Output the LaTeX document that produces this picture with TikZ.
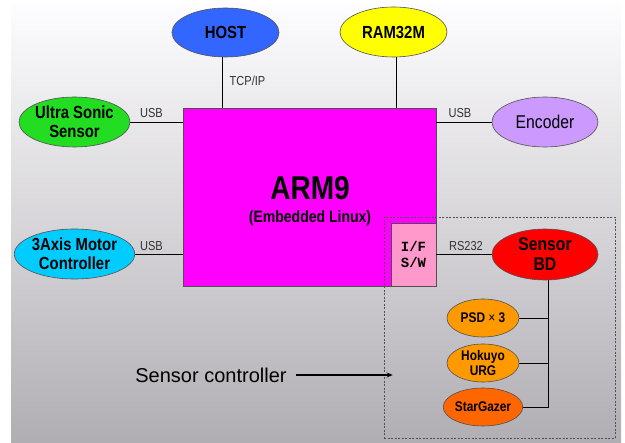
\documentclass[tikz,border=0pt]{standalone}
\usepackage{fontspec}
\setmainfont{Liberation Sans}
\newfontfamily\labf[FakeStretch=0.85]{Liberation Sans}
\newfontfamily\monof{Liberation Mono}
\usetikzlibrary{shapes.geometric,arrows.meta}
\definecolor{bgtop}{RGB}{253,252,254}
\definecolor{bgbot}{RGB}{176,174,179}
\definecolor{edgegray}{RGB}{80,80,80}
\definecolor{labgray}{RGB}{50,50,50}
\definecolor{hostblue}{RGB}{51,102,255}
\definecolor{ramyellow}{RGB}{255,255,0}
\definecolor{usgreen}{RGB}{34,221,34}
\definecolor{enclav}{RGB}{204,153,255}
\definecolor{axcyan}{RGB}{0,204,255}
\definecolor{sbdred}{RGB}{255,0,0}
\definecolor{psdorange}{RGB}{255,153,0}
\definecolor{stardark}{RGB}{255,102,0}
\definecolor{armmag}{RGB}{255,0,255}
\definecolor{ifpink}{RGB}{255,153,204}
\begin{document}
\begin{tikzpicture}[x=1pt,y=-1pt,
  ell/.style={ellipse,draw=edgegray,line width=0.6pt,inner sep=0pt,align=center,text=black},
  bigf/.style={font=\labf\bfseries\fontsize{17.5}{19}\selectfont},
  smallf/.style={font=\labf\bfseries\fontsize{14}{15.5}\selectfont},
  elab/.style={font=\labf\fontsize{13}{13}\selectfont,text=labgray,inner sep=0pt},
  conn/.style={draw=black,line width=0.9pt}]
\useasboundingbox (0,0) rectangle (625,443);
\shade[top color=bgtop,bottom color=bgbot] (11,5) rectangle (621,443);

% main box
\node[draw=edgegray,line width=0.6pt,fill=armmag,minimum width=253pt,minimum height=178pt,inner sep=0pt] (arm) at (309.5,197) {};
\node[font=\labf\bfseries\fontsize{33}{33}\selectfont,inner sep=0pt] (armt) at (310,188) {ARM9};
\node[font=\labf\bfseries\fontsize{16.5}{16.5}\selectfont,inner sep=0pt] (arms) at (310,218) {(Embedded Linux)};

% sensor controller dashed frame
\node[draw=edgegray,dash pattern=on 2pt off 1.5pt,line width=0.6pt,minimum width=231pt,minimum height=221pt,inner sep=0pt] (sc) at (499.5,327.5) {};

\node[draw=edgegray,line width=0.6pt,fill=ifpink,minimum width=45pt,minimum height=63pt,inner sep=0pt,align=center,font=\monof\bfseries\fontsize{14}{16}\selectfont] (ifsw) at (413.5,254.5) {I/F\\S/W};

% ellipses
\node[ell,bigf,fill=hostblue,minimum width=107pt,minimum height=49pt] (host) at (225.5,32.5) {HOST};
\node[ell,bigf,fill=ramyellow,minimum width=107pt,minimum height=50pt] (ram) at (393.5,32) {RAM32M};
\node[ell,bigf,fill=usgreen,minimum width=107pt,minimum height=50pt] (ultra) at (74.5,122) {Ultra Sonic\\Sensor};
\node[ell,font=\labf\fontsize{18.5}{18.5}\selectfont,fill=enclav,minimum width=106pt,minimum height=50pt] (enc) at (545,122) {Encoder};
\node[ell,bigf,fill=axcyan,minimum width=107pt,minimum height=50pt] (axis) at (74.5,254) {3Axis Motor\\Controller};
\node[ell,font=\labf\bfseries\fontsize{18.5}{20}\selectfont,fill=sbdred,minimum width=106pt,minimum height=51pt] (sbd) at (545,254.5) {Sensor\\BD};
\node[ell,smallf,fill=psdorange,minimum width=72pt,minimum height=38pt] (psd) at (483,318) {PSD {\mdseries ×} 3};
\node[ell,smallf,fill=psdorange,minimum width=72pt,minimum height=38pt] (hok) at (483,363) {Hokuyo\\URG};
\node[ell,smallf,fill=stardark,minimum width=72pt,minimum height=38pt] (star) at (483,407) {StarGazer};

% connectors
\draw[conn] (ultra.east) -- (ultra.east -| arm.west);
\draw[conn] (axis.east) -- (axis.east -| arm.west);
\draw[conn] (enc.west) -- (enc.west -| arm.east);
\draw[conn] ([xshift=-3.5pt]host.south) -- ([xshift=-3.5pt]host.south |- arm.north);
\draw[conn] ([xshift=2.5pt]ram.south) -- ([xshift=2.5pt]ram.south |- arm.north);
\draw[conn] (ifsw.east) -- (sbd.west);
\coordinate (bus) at ([xshift=3pt]sbd.south);
\draw[conn] (bus) -- (bus |- star.east) -- (star.east);
\draw[conn] (psd.east) -- (psd.east -| bus);
\draw[conn] (hok.east) -- (hok.east -| bus);

% edge labels
\node[elab] (l1) at (151.5,113) {USB};
\node[elab] (l2) at (151.5,246) {USB};
\node[elab] (l3) at (460,113) {USB};
\node[elab] (l4) at (247.5,81) {TCP/IP};
\node[elab] (l5) at (466,246) {RS232};

% sensor controller label
\node[font=\fontsize{20}{20}\selectfont,inner sep=0pt] (sctxt) at (211,375) {Sensor controller};
\draw[line width=1.3pt,-{Stealth[length=6pt,width=5pt]}] ([xshift=9pt]sctxt.east) -- ([xshift=9pt]sctxt.east -| sc.west);
\end{tikzpicture}
\end{document}
